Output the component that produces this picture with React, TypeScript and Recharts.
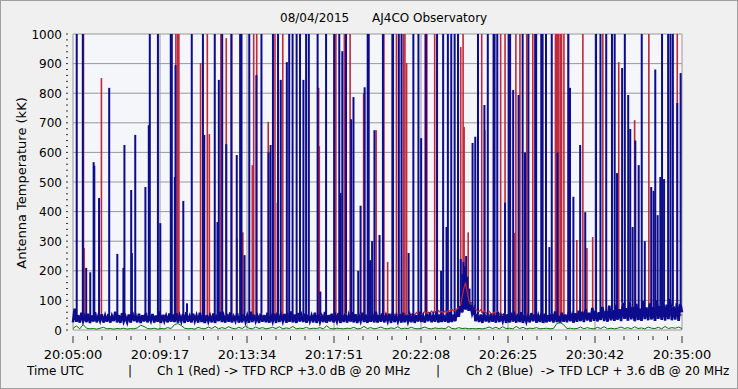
import React from 'react';
import { ComposedChart, Line, Bar, XAxis, YAxis, CartesianGrid } from 'recharts';

// seconds after 20:05:00 UTC, 30 minute window
const timeLabels = ['20:05:00', '20:09:17', '20:13:34', '20:17:51', '20:22:08', '20:26:25', '20:30:42', '20:35:00'];
const yLabels = [0, 100, 200, 300, 400, 500, 600, 700, 800, 900, 1000];

// Ch 2 (blue) floor, one value every 5 s
const blueBase = [
  26, 72, 28, 50, 25, 58, 30, 46, 27, 55, 24, 49, 29, 60, 26, 47, 31, 53, 25, 48,
  28, 54, 25, 47, 30, 62, 26, 50, 24, 57, 29, 45, 27, 52, 25, 61, 30, 48, 26, 55,
  24, 50, 29, 58, 26, 46, 31, 54, 25, 49, 28, 63, 24, 51, 30, 47, 26, 56, 29, 52,
  27, 57, 25, 48, 30, 53, 24, 60, 28, 46, 26, 55, 31, 49, 25, 58, 27, 51, 24, 50,
  29, 47, 26, 56, 24, 52, 30, 61, 27, 48, 25, 54, 28, 59, 26, 45, 31, 57, 25, 50,
  26, 53, 29, 48, 25, 62, 27, 51, 30, 46, 24, 56, 28, 50, 26, 58, 25, 47, 29, 55,
  24, 59, 27, 50, 30, 54, 25, 47, 28, 63, 26, 52, 24, 57, 29, 49, 27, 55, 25, 51,
  30, 48, 26, 58, 24, 53, 28, 46, 27, 61, 25, 50, 29, 55, 26, 48, 30, 57, 24, 52,
  27, 55, 25, 49, 29, 60, 26, 53, 24, 47, 30, 58, 27, 51, 25, 56, 28, 49, 26, 62,
  25, 50, 28, 57, 26, 48, 30, 55, 24, 60, 27, 46, 29, 53, 25, 58, 26, 51, 28, 49,
  26, 56, 24, 50, 29, 61, 27, 47, 25, 54, 30, 58, 26, 49, 28, 63, 25, 52, 27, 50,
  28, 55, 25, 60, 27, 52, 30, 66, 45, 80, 60, 95, 70, 90, 65, 85, 55, 70, 30, 54,
  27, 52, 24, 59, 29, 48, 26, 55, 28, 50, 25, 62, 27, 47, 30, 56, 24, 53, 26, 58,
  29, 49, 25, 54, 27, 60, 24, 51, 28, 47, 26, 57, 30, 53, 25, 48, 27, 61, 24, 55,
  26, 50, 29, 56, 25, 63, 27, 48, 24, 58, 28, 52, 26, 60, 30, 49, 25, 57, 28, 65,
  30, 62, 27, 70, 32, 58, 28, 75, 31, 66, 29, 60, 34, 78, 30, 64, 28, 82, 33, 67,
  31, 85, 35, 70, 30, 92, 38, 74, 32, 96, 36, 80, 30, 88, 34, 72, 31, 98, 37, 76,
  33, 90, 36, 78, 31, 100, 38, 82, 34, 94, 32, 86, 37, 105, 33, 80, 35, 92, 31, 88,
  60,
];

// Ch 1 (red) floor, one value every 5 s
const redBase = [
  40, 48, 35, 44, 38, 52, 36, 42, 33, 46, 39, 45, 34, 41, 37, 49, 35, 43, 38, 40,
  44, 36, 41, 47, 35, 43, 39, 50, 34, 42, 37, 45, 33, 48, 38, 41, 36, 46, 40, 35,
  42, 38, 46, 34, 44, 40, 37, 48, 35, 43, 39, 45, 36, 41, 50, 38, 44, 35, 47, 40,
  45, 39, 43, 48, 36, 44, 40, 52, 37, 46, 38, 42, 35, 49, 41, 44, 38, 47, 40, 43,
  46, 40, 44, 38, 50, 42, 39, 47, 43, 36, 48, 41, 45, 39, 52, 44, 40, 46, 38, 43,
  42, 47, 39, 45, 41, 50, 38, 44, 46, 40, 48, 37, 43, 49, 41, 45, 39, 51, 42, 46,
  44, 48, 41, 46, 39, 52, 43, 47, 40, 45, 50, 42, 38, 46, 44, 49, 41, 47, 43, 45,
  47, 42, 50, 44, 48, 41, 46, 53, 43, 49, 45, 40, 51, 44, 47, 42, 52, 46, 43, 49,
  45, 50, 43, 48, 52, 46, 44, 51, 47, 42, 53, 48, 45, 50, 46, 55, 49, 44, 52, 47,
  50, 46, 53, 48, 44, 55, 49, 52, 46, 58, 51, 47, 54, 50, 56, 48, 52, 57, 50, 54,
  52, 56, 50, 59, 54, 61, 53, 57, 62, 55, 60, 58, 64, 56, 62, 59, 66, 60, 63, 58,
  65, 60, 68, 62, 70, 64, 67, 72, 75, 80, 110, 140, 160, 130, 100, 85, 70, 66, 72, 64,
  62, 68, 58, 65, 60, 55, 63, 57, 52, 60, 54, 50, 56, 49, 53, 47, 51, 45, 50, 44,
  48, 43, 46, 41, 49, 44, 40, 47, 42, 45, 39, 46, 43, 48, 41, 44, 40, 47, 42, 45,
  43, 46, 41, 48, 44, 40, 47, 42, 45, 50, 43, 47, 41, 46, 44, 49, 42, 47, 45, 50,
  44, 48, 42, 47, 45, 51, 43, 49, 46, 44, 50, 47, 43, 48, 45, 52, 46, 49, 44, 47,
  50, 46, 53, 48, 45, 51, 47, 55, 49, 46, 52, 48, 54, 47, 50, 46, 53, 49, 51, 48,
  52, 48, 55, 50, 47, 53, 49, 56, 51, 48, 54, 50, 57, 52, 49, 55, 51, 53, 50, 52,
  50,
];

// third trace (green), one value every 10 s
const greenBase = [
  5, 14, 4, 18, 6, 4, 5, 3, 6, 9, 4, 5, 3, 5, 4, 6, 3, 5, 4, 7,
  16, 12, 5, 4, 6, 3, 5, 4, 8, 5, 18, 22, 15, 6, 4, 5, 3, 9, 5, 4,
  10, 5, 12, 4, 8, 5, 11, 6, 4, 9, 5, 13, 6, 4, 10, 5, 8, 4, 6, 9,
  5, 11, 4, 7, 5, 12, 4, 6, 5, 9, 4, 6, 5, 8, 4, 14, 5, 4, 6, 5,
  4, 6, 5, 9, 4, 5, 12, 5, 8, 4, 6, 10, 5, 4, 7, 5, 11, 4, 6, 5,
  9, 5, 4, 6, 10, 5, 4, 7, 5, 6, 4, 12, 5, 4, 8, 5, 6, 4, 5, 4,
  5, 4, 6, 10, 5, 9, 4, 11, 5, 6, 4, 12, 5, 9, 4, 6, 5, 8, 4, 5,
  6, 4, 5, 22, 25, 18, 5, 6, 4, 5, 10, 4, 8, 5, 4, 9, 5, 11, 4, 6,
  4, 6, 10, 5, 8, 4, 11, 5, 7, 4, 10, 6, 5, 9, 4, 12, 5, 8, 6, 10,
  5,
];

// [seconds, kK] bursts
const blueSpikes: [number, number][] = [
  [11, 1000], [29, 1000], [39, 210], [51, 195], [61, 567], [63, 555], [77, 446], [107, 818], [131, 257],
  [149, 210], [152, 625], [172, 473], [174, 260], [184, 659], [214, 483], [224, 692], [227, 1000],
  [251, 1000], [258, 361], [289, 1000], [292, 1000],
  [301, 517], [303, 895], [326, 436], [337, 90], [351, 1000], [384, 1000], [388, 659], [419, 1000],
  [427, 365], [431, 845], [441, 1000], [453, 628], [468, 1000], [484, 591], [494, 1000], [498, 1000],
  [507, 253], [521, 1000], [542, 861], [557, 1000], [578, 600], [584, 625], [591, 1000],
  [606, 1000], [614, 845], [632, 905], [639, 1000], [649, 1000], [661, 1000], [671, 1000], [681, 845],
  [689, 1000], [697, 1000], [723, 1000], [731, 130], [748, 1000], [772, 1000], [787, 1000], [791, 463],
  [796, 942], [807, 1000], [822, 712], [829, 787], [843, 200], [850, 420], [862, 820], [871, 1000],
  [874, 1000], [878, 236], [884, 300], [891, 675],
  [906, 321], [916, 1000], [944, 1000], [946, 1000], [963, 1000], [971, 1000], [992, 260], [1006, 1000],
  [1021, 1000], [1029, 648], [1043, 1000], [1076, 1000], [1088, 200], [1094, 1000], [1104, 348],
  [1108, 1000], [1118, 1000], [1128, 1000], [1138, 1000], [1146, 240], [1149, 130], [1151, 190],
  [1154, 230], [1156, 170], [1158, 215], [1161, 200], [1162, 250], [1164, 160], [1166, 180],
  [1169, 120], [1172, 140], [1175, 95], [1181, 632], [1189, 653], [1197, 1000],
  [1216, 760], [1226, 1000], [1243, 1000], [1246, 1000], [1254, 1000], [1277, 430], [1288, 1000],
  [1292, 1000], [1301, 811], [1317, 794], [1329, 1000], [1336, 600], [1346, 1000], [1366, 1000],
  [1369, 1000], [1384, 1000], [1388, 1000], [1398, 1000], [1408, 280], [1415, 1000], [1432, 600],
  [1464, 1000], [1469, 818], [1479, 450], [1499, 625],
  [1514, 398], [1546, 1000], [1559, 1000], [1576, 1000], [1593, 1000], [1601, 1000], [1608, 530],
  [1623, 885], [1631, 1000], [1641, 794], [1647, 679], [1654, 348], [1662, 640], [1672, 557],
  [1681, 1000], [1690, 300], [1709, 483], [1716, 470], [1721, 880], [1728, 388], [1736, 517],
  [1741, 1000], [1747, 510], [1759, 1000], [1766, 1000], [1773, 1000], [1786, 767], [1796, 868],
];

const redSpikes: [number, number][] = [
  [31, 1000], [33, 277], [84, 851], [304, 1000], [309, 1000], [313, 1000], [377, 902], [397, 1000],
  [403, 662], [437, 1000], [453, 986], [469, 1000], [484, 311], [502, 330], [530, 557], [534, 1000],
  [543, 1000], [577, 703], [597, 1000], [604, 430], [620, 1000], [726, 818], [728, 621], [773, 1000],
  [777, 1000], [802, 1000], [819, 1000], [859, 800], [896, 675], [919, 1000], [930, 230], [956, 1000],
  [977, 1000], [981, 1000], [986, 902], [1041, 1000], [1046, 1000], [1069, 1000], [1146, 956],
  [1153, 1000], [1156, 686], [1168, 330], [1208, 1000], [1217, 675], [1264, 1000], [1277, 1000],
  [1306, 328], [1309, 1000], [1321, 1000], [1341, 1000], [1359, 1000], [1426, 1000], [1429, 1000],
  [1433, 1000], [1436, 1000], [1441, 1000], [1444, 1000], [1451, 1000], [1464, 1000], [1489, 304],
  [1507, 1000], [1519, 277], [1536, 314], [1566, 1000], [1613, 905], [1660, 709], [1702, 1000],
  [1786, 1000],
];

type Row = {
  t: number;
  red?: number;
  blue?: number;
  green?: number;
  redSpike?: [number, number];
  blueSpike?: [number, number];
};

const rows = new Map<number, Row>();
const get = (t: number) => {
  const r = rows.get(t) ?? { t };
  rows.set(t, r);
  return r;
};
blueBase.forEach((v, i) => (get(i * 5).blue = v));
redBase.forEach((v, i) => (get(i * 5).red = v));
greenBase.forEach((v, i) => (get(i * 10).green = v));
// each burst rises from the floor sample nearest to it
blueSpikes.forEach(([t, v]) => (get(t).blueSpike = [blueBase[Math.round(t / 5)], v]));
redSpikes.forEach(([t, v]) => (get(t).redSpike = [redBase[Math.round(t / 5)], v]));
const data = [...rows.values()].sort((a, b) => a.t - b.t);

// 6 minor steps between labelled ticks
const xTicks = Array.from({ length: 43 }, (_, i) => (i * 1800) / 42);
const yTicks = Array.from({ length: 51 }, (_, i) => i * 20);
const gridX = timeLabels.map((_, i) => (i * 1800) / 7);

const FONT = '"DejaVu Sans", Verdana, sans-serif';
const BLUE = '#0c0c8c';
const RED = '#c0283c';

// bars get a sliver of band width on a number axis, so draw them at a fixed width
const spikeShape = (w: number, color: string) => (props: any) => {
  const { x, y, width, height } = props;
  if (height == null || isNaN(height)) return <g />;
  return <rect x={x + width / 2 - w / 2} y={y} width={w} height={Math.abs(height)} fill={color} />;
};

const XTick = (props: any) => {
  const { x, y, index } = props;
  const major = index % 6 === 0;
  return (
    <g>
      <line x1={x} x2={x} y1={y + 6} y2={major ? y + 13 : y + 10} stroke="#333" />
      {major && (
        <text x={x} y={y + 29} textAnchor="middle" fontSize={13} fontFamily={FONT} fill="#000">
          {timeLabels[index / 6]}
        </text>
      )}
    </g>
  );
};

const YTick = (props: any) => {
  const { x, y, payload } = props;
  const major = payload.value % 100 === 0;
  return (
    <g>
      <line x1={x - 7} x2={x - 5} y1={y} y2={y} stroke="#333" />
      {major && (
        <text x={x - 11} y={y} dy={4.5} textAnchor="end" fontSize={12} fontFamily={FONT} fill="#000">
          {payload.value}
        </text>
      )}
    </g>
  );
};

const textStyle: React.CSSProperties = {
  position: 'absolute',
  fontFamily: FONT,
  fontSize: 12,
  lineHeight: '15px',
  whiteSpace: 'pre',
  color: '#000',
};

export default function App() {
  return (
    <div
      style={{
        position: 'absolute',
        left: 0,
        top: 0,
        width: 738,
        height: 389,
        boxSizing: 'border-box',
        border: '1px solid #a0a0a0',
        background: '#f0f0f0',
        overflow: 'hidden',
      }}
    >
      <div style={{ ...textStyle, top: 10, left: 279 }}>08/04/2015</div>
      <div style={{ ...textStyle, top: 10, left: 371 }}>AJ4CO Observatory</div>
      <div style={{ position: 'absolute', left: -1, top: -1 }}>
        <ComposedChart
          width={738}
          height={389}
          data={data}
          margin={{ top: 34, right: 56, left: 0, bottom: 29 }}
        >
          <CartesianGrid
            stroke="#999"
            fill="#f5f6fa"
            horizontalValues={yLabels}
            verticalValues={gridX}
          />
          <XAxis
            dataKey="t"
            type="number"
            domain={[0, 1800]}
            ticks={xTicks}
            interval={0}
            height={30}
            axisLine={false}
            tickLine={false}
            tickSize={0}
            tickMargin={0}
            tick={<XTick />}
          />
          <XAxis xAxisId="red" dataKey="t" type="number" domain={[0, 1800]} hide />
          <YAxis
            type="number"
            domain={[0, 1000]}
            allowDataOverflow
            ticks={yTicks}
            interval={0}
            width={73}
            axisLine={false}
            tickLine={false}
            tickSize={0}
            tickMargin={0}
            tick={<YTick />}
          />
          <Line dataKey="red" stroke={RED} strokeWidth={1.2} dot={false} activeDot={false} connectNulls isAnimationActive={false} />
          <Bar xAxisId="red" dataKey="redSpike" shape={spikeShape(1.6, RED)} isAnimationActive={false} />
          <Line dataKey="blue" stroke={BLUE} strokeWidth={2.6} dot={false} activeDot={false} connectNulls isAnimationActive={false} />
          <Bar dataKey="blueSpike" shape={spikeShape(2, BLUE)} isAnimationActive={false} />
          <Line dataKey="green" stroke="#0a6e0a" strokeWidth={1} dot={false} activeDot={false} connectNulls isAnimationActive={false} />
        </ComposedChart>
      </div>
      <div style={{ ...textStyle, fontSize: 13, left: 13, top: 182, width: 0, height: 0 }}>
        <div style={{ position: 'absolute', transform: 'translate(-50%, -50%) rotate(-90deg)', left: 7 }}>
          Antenna Temperature (kK)
        </div>
      </div>
      <div style={{ ...textStyle, top: 363, left: 26 }}>Time UTC</div>
      <div style={{ ...textStyle, top: 363, left: 127 }}>|</div>
      <div style={{ ...textStyle, top: 363, left: 156 }}>{'Ch 1 (Red) -> TFD RCP +3.0 dB @ 20 MHz'}</div>
      <div style={{ ...textStyle, top: 363, left: 435 }}>|</div>
      <div style={{ ...textStyle, top: 363, left: 465 }}>{'Ch 2 (Blue)  -> TFD LCP + 3.6 dB @ 20 MHz'}</div>
    </div>
  );
}
